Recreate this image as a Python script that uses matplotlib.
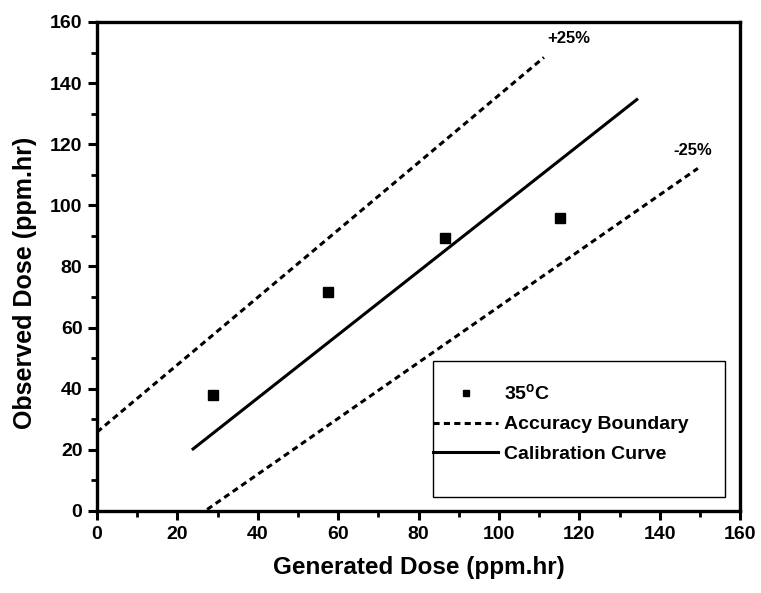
import matplotlib.pyplot as plt
from matplotlib.ticker import MultipleLocator
from matplotlib.patches import Rectangle

plt.rcParams['font.family'] = ['Liberation Sans', 'DejaVu Sans']

# measured points at 35 C
gen_dose = [28.9, 57.5, 86.6, 115.2]
obs_dose = [37.9, 71.6, 89.2, 95.7]

# line end points
upper_x = [0, 111.2]
upper_y = [25.8, 148.4]
lower_x = [27.4, 149.5]
lower_y = [0.5, 112.1]
calib_x = [23.9, 134.3]
calib_y = [20.3, 134.6]

fig = plt.figure(figsize=(7.61, 5.93), dpi=100)
ax = fig.add_axes([0.1275, 0.1383, 0.845, 0.8247])

dash = (0, (2.0, 1.4))
ax.plot(gen_dose, obs_dose, 's', color='black', markersize=6.5, label='35$^\\mathregular{o}$C')
ax.plot(upper_x, upper_y, color='black', lw=2.2, ls=dash, label='Accuracy Boundary')
ax.plot(lower_x, lower_y, color='black', lw=2.2, ls=dash)
ax.plot(calib_x, calib_y, color='black', lw=2.2, label='Calibration Curve')

ax.text(112, 154.5, '+25%', fontsize=12, fontweight='bold', va='center')
ax.text(143.5, 118, '-25%', fontsize=12, fontweight='bold', va='center')

ax.set_xlim(0, 160)
ax.set_ylim(0, 160)
ax.xaxis.set_major_locator(MultipleLocator(20))
ax.xaxis.set_minor_locator(MultipleLocator(10))
ax.yaxis.set_major_locator(MultipleLocator(20))
ax.yaxis.set_minor_locator(MultipleLocator(10))
ax.tick_params(which='major', direction='out', length=6.5, width=2.2, labelsize=14, pad=4)
ax.tick_params(which='minor', direction='out', length=4, width=2.0)
for lab in ax.get_xticklabels() + ax.get_yticklabels():
    lab.set_fontweight('bold')
for s in ax.spines.values():
    s.set_linewidth(2.4)

ax.set_xlabel('Generated Dose (ppm.hr)', fontsize=17.5, fontweight='bold', labelpad=10)
ax.set_ylabel('Observed Dose (ppm.hr)', fontsize=18, fontweight='bold')
ax.yaxis.set_label_coords(-0.094, 0.466)

ax.add_patch(Rectangle((0.523, 0.029), 0.454, 0.278, transform=ax.transAxes,
                       fill=False, ec='black', lw=1.0, zorder=5))
leg = ax.legend(loc='upper left', bbox_to_anchor=(0.5226, 0.261), frameon=False,
                prop={'size': 14, 'weight': 'bold'}, borderpad=0, borderaxespad=0,
                handlelength=3.35, handletextpad=0.3, labelspacing=0.6, markerscale=0.75)

fig.savefig('out.png', dpi=100)
